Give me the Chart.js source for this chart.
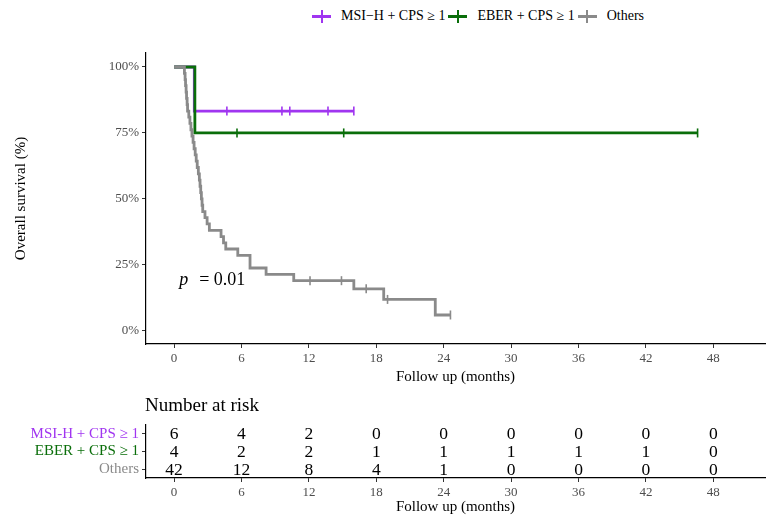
<!DOCTYPE html>
<html>
<head>
<meta charset="utf-8">
<script src="https://cdn.jsdelivr.net/npm/chart.js"></script>
<style>
  body { margin: 0; background: #fff; }
  #wrap { position: relative; width: 779px; height: 528px; font-family: 'Liberation Serif', serif; }
  canvas { position: absolute; left: 0; }
  #legend { position: absolute; top: 7px; left: 312px; display: flex; align-items: center; height: 18px;
    font-size: 14px; line-height: 18px; color: #000; white-space: nowrap; }
  .glyph { position: relative; width: 19px; height: 3px; margin-right: 10px; }
  .glyph::after { content: ''; position: absolute; left: 8.5px; top: -5px; width: 2px; height: 13px; background: inherit; }
  .leg { margin-right: 3px; }
</style>
</head>
<body>
<div id="wrap">
  <div id="legend">
    <div class="glyph" style="background:#A035F0"></div><div class="leg">MSI−H + CPS ≥ 1</div>
    <div class="glyph" style="background:#0A6E0A"></div><div class="leg">EBER + CPS ≥ 1</div>
    <div class="glyph" style="background:#8A8A8A"></div><div class="leg">Others</div>
  </div>
  <canvas id="km" width="779" height="390" style="top:0"></canvas>
  <canvas id="risk" width="779" height="138" style="top:390px"></canvas>
</div>
<script>
// survival curves: time of each step (months) and survival after it
const msiTime = [0, 1.8, 16.0];
const msiSurv = [1, 0.833, 0.833];
const msiCensor = [4.7, 9.6, 10.3, 13.7, 16.0];

const eberTime = [0, 1.85, 46.6];
const eberSurv = [1, 0.75, 0.75];
const eberCensor = [5.6, 15.1, 46.6];

const othersTime = [0, 0.92, 0.98, 1.02, 1.07, 1.11, 1.16, 1.2, 1.31, 1.41, 1.5, 1.59, 1.69, 1.78, 1.88,
  1.97, 2.06, 2.16, 2.25, 2.31, 2.37, 2.43, 2.49, 2.55, 2.75, 2.94, 3.14, 4.18, 4.4, 4.6, 5.67, 6.76,
  8.19, 10.65, 16.0, 18.66, 23.25, 24.6];
const othersSurv = [1, 0.976, 0.952, 0.929, 0.905, 0.881, 0.857, 0.833, 0.810, 0.786, 0.762, 0.738,
  0.714, 0.690, 0.667, 0.643, 0.619, 0.595, 0.571, 0.548, 0.524, 0.500, 0.476, 0.452, 0.429, 0.405,
  0.381, 0.357, 0.333, 0.310, 0.286, 0.238, 0.214, 0.190, 0.159, 0.119, 0.060, 0.060];
const othersCensor = [12.1, 14.9, 17.1, 19.0, 24.6];

const xTicks = [0, 6, 12, 18, 24, 30, 36, 42, 48];
const yTicks = [0, 0.25, 0.5, 0.75, 1];

// number at risk table
const rowLabels = ['MSI-H + CPS ≥ 1', 'EBER + CPS ≥ 1', 'Others'];
const riskTimes = [0, 6, 12, 18, 24, 30, 36, 42, 48];
const riskMsi = [6, 4, 2, 0, 0, 0, 0, 0, 0];
const riskEber = [4, 2, 2, 1, 1, 1, 1, 1, 0];
const riskOthers = [42, 12, 8, 4, 1, 0, 0, 0, 0];

const pText = '= 0.01';

const colMsi = '#A035F0', colEber = '#0A6E0A', colOthers = '#8A8A8A';
const serif = "'Liberation Serif', serif";

function stepPts(times, surv) {
  return times.map((t, i) => ({x: t, y: surv[i]}));
}
function censorPts(cens, times, surv) {
  return cens.map(c => {
    let k = 0;
    times.forEach((t, i) => { if (t <= c) k = i; });
    return {x: c, y: surv[k]};
  });
}
function curve(label, times, surv, color) {
  return {type: 'line', label: label, data: stepPts(times, surv), stepped: true, borderColor: color,
    borderWidth: 2.8, pointRadius: 0, fill: false};
}
function ticksOf(label, cens, times, surv, color) {
  return {type: 'line', label: label, data: censorPts(cens, times, surv), showLine: false,
    pointStyle: 'line', pointRotation: 90, pointRadius: 4.5, pointBorderWidth: 1.6,
    pointBorderColor: color, borderColor: color};
}

const axisX = {
  type: 'linear', min: -2.5, max: 52.6,
  afterBuildTicks: s => { s.ticks = xTicks.map(v => ({value: v})); },
  ticks: {color: '#4D4D4D', font: {family: serif, size: 13}, padding: 3},
  grid: {drawOnChartArea: false, drawTicks: true, tickLength: 4, color: '#333'},
  border: {display: true, color: '#000', width: 1.2}
};

const pPlugin = {
  id: 'pval',
  afterDatasetsDraw(chart) {
    const {ctx, scales} = chart;
    const x = scales.x.getPixelForValue(0.45), y = scales.y.getPixelForValue(0.19);
    ctx.save();
    ctx.fillStyle = '#000';
    ctx.textBaseline = 'middle';
    ctx.font = 'italic 18px ' + serif;
    ctx.fillText('p', x, y);
    ctx.font = '18px ' + serif;
    ctx.fillText(pText, x + 20, y);
    ctx.restore();
  }
};

new Chart(document.getElementById('km'), {
  type: 'line',
  data: {datasets: [
    ticksOf('Others', othersCensor, othersTime, othersSurv, colOthers),
    curve('Others', othersTime, othersSurv, colOthers),
    ticksOf('EBER', eberCensor, eberTime, eberSurv, colEber),
    curve('EBER', eberTime, eberSurv, colEber),
    ticksOf('MSI', msiCensor, msiTime, msiSurv, colMsi),
    curve('MSI', msiTime, msiSurv, colMsi)
  ]},
  options: {
    responsive: false, animation: false,
    layout: {padding: {top: 53, right: 14, left: 0, bottom: 0}},
    plugins: {legend: {display: false}, tooltip: {enabled: false}},
    scales: {
      x: Object.assign({}, axisX, {
        afterFit: s => { s.height = 46; },
        title: {display: true, text: 'Follow up (months)', color: '#000', font: {family: serif, size: 15}, padding: {top: 0, bottom: 4}}
      }),
      y: {
        type: 'linear', min: -0.05, max: 1.053,
        afterBuildTicks: s => { s.ticks = yTicks.map(v => ({value: v})); },
        afterFit: s => { s.width = 146; },
        ticks: {color: '#4D4D4D', font: {family: serif, size: 13}, padding: 3, callback: v => Math.round(v * 100) + '%'},
        grid: {drawOnChartArea: false, drawTicks: true, tickLength: 4, color: '#333'},
        border: {display: true, color: '#000', width: 1.2},
        title: {display: true, text: 'Overall survival (%)', color: '#000', font: {family: serif, size: 15}, padding: {top: 12, bottom: 0}}
      }
    }
  },
  plugins: [pPlugin]
});

const riskRows = [riskMsi, riskEber, riskOthers];
const rowColors = [colMsi, colEber, colOthers];

const riskPlugin = {
  id: 'riskNumbers',
  afterDraw(chart) {
    const {ctx, scales, chartArea} = chart;
    ctx.save();
    ctx.fillStyle = '#000';
    ctx.textBaseline = 'middle';
    ctx.font = '19px ' + serif;
    ctx.textAlign = 'left';
    ctx.fillText('Number at risk', chartArea.left - 1, 16);
    ctx.font = '17.5px ' + serif;
    ctx.textAlign = 'center';
    riskRows.forEach((row, r) => {
      const y = scales.y.getPixelForValue(r);
      row.forEach((n, i) => {
        ctx.fillText(String(n), scales.x.getPixelForValue(riskTimes[i]), y + 1);
      });
    });
    ctx.restore();
  }
};

new Chart(document.getElementById('risk'), {
  type: 'scatter',
  data: {datasets: [{data: []}]},
  options: {
    responsive: false, animation: false,
    layout: {padding: {top: 35, right: 14, left: 0, bottom: 0}},
    plugins: {legend: {display: false}, tooltip: {enabled: false}},
    scales: {
      x: Object.assign({}, axisX, {
        afterFit: s => { s.height = 50; },
        title: {display: true, text: 'Follow up (months)', color: '#000', font: {family: serif, size: 15}, padding: {top: 0, bottom: 12}}
      }),
      y: {
        type: 'category', labels: rowLabels, offset: true,
        afterFit: s => { s.width = 146; },
        ticks: {color: c => rowColors[c.index], font: {family: serif, size: 15}, padding: 3, autoSkip: false},
        grid: {drawOnChartArea: false, drawTicks: true, tickLength: 4, color: '#333', offset: false},
        border: {display: true, color: '#000', width: 1.2}
      }
    }
  },
  plugins: [riskPlugin]
});
</script>
</body>
</html>
